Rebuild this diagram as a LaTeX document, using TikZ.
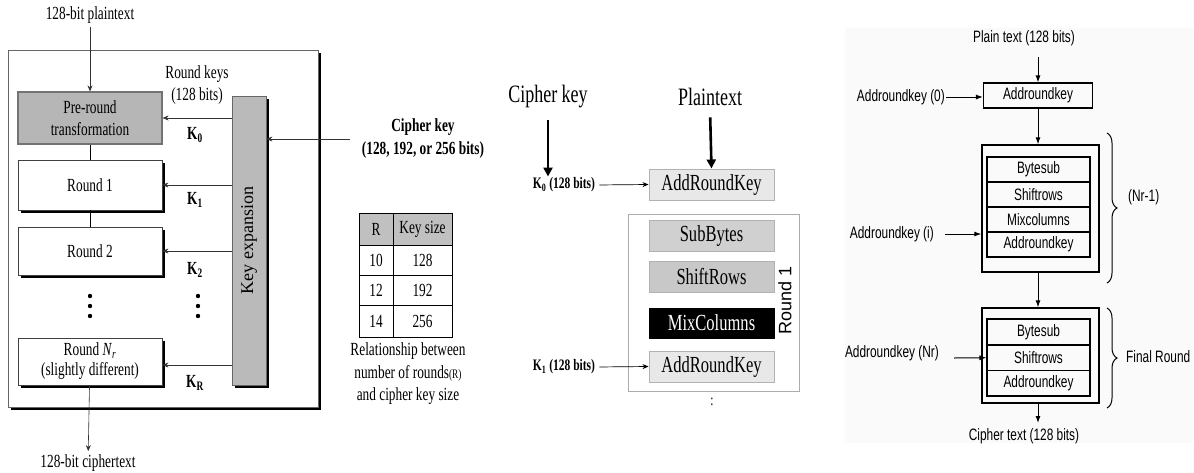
\documentclass[tikz,border=0pt]{standalone}
\usepackage{fontspec}
\setmainfont{Liberation Serif}[FakeStretch=0.72]
\newfontfamily\serwide{Liberation Serif}
\newfontfamily\san{Liberation Sans}[FakeStretch=0.72]
\newfontfamily\sanwide{Liberation Sans}
\usetikzlibrary{shadows,decorations.pathreplacing,arrows.meta}
\definecolor{lgrey}{RGB}{182,182,182}
\definecolor{kgrey}{RGB}{186,186,186}
\definecolor{hgrey}{RGB}{192,192,192}
\definecolor{mlight}{RGB}{232,232,232}
\definecolor{msub}{RGB}{208,208,208}
\definecolor{mshift}{RGB}{200,200,200}
\definecolor{bgpanel}{RGB}{250,250,250}
\begin{document}
\begin{tikzpicture}[x=1pt,y=-1pt,
  lf/.style={font=\fontsize{18.5}{22}\selectfont},
  shad/.style={drop shadow={shadow xshift=3pt,shadow yshift=-3pt,fill=black,opacity=1}},
  lround/.style={draw=black!75,line width=0.8pt,fill=white,inner sep=0pt,align=center,minimum width=144pt,lf,shad},
  larr/.style={-{Stealth[length=6pt,width=5pt]},line width=0.6pt,draw=black!80},
  tc/.style={draw,line width=0.9pt,inner sep=0pt,minimum height=30pt,font=\fontsize{18.5}{18.5}\selectfont},
  mbox/.style={draw=gray!60,line width=1pt,inner sep=0pt,minimum width=125pt,minimum height=31pt,font=\fontsize{23}{23}\selectfont},
  marr/.style={-{Stealth[length=6pt,width=5pt]},line width=0.7pt},
  thickarr/.style={-{Triangle[length=9pt,width=9pt]},line width=2.6pt},
  rbox/.style={draw,line width=1.1pt,inner sep=0pt,minimum width=103pt,minimum height=25pt,font=\san\fontsize{16.5}{16.5}\selectfont},
  router/.style={draw,line width=1.3pt,inner sep=0pt,minimum width=117pt},
  rlab/.style={font=\san\fontsize{16.5}{16.5}\selectfont,inner sep=1pt},
  rarr/.style={-{Latex[length=7pt,width=5pt]},line width=1pt},
  rbrace/.style={decorate,decoration={brace,amplitude=10pt},line width=1pt}
]
\useasboundingbox (0,0) rectangle (1194,472);
\fill[white] (0,0) rectangle (1194,472);

% ================= LEFT =================
\node[draw=black!60,line width=0.9pt,fill=white,minimum width=310pt,minimum height=357pt,inner sep=0pt,shad] (frame) at (163,228.5) {};
\node[lf] (pt) at (90,15) {128-bit plaintext};
\node[draw=black!55,line width=1.2pt,fill=lgrey,inner sep=0pt,align=center,minimum width=144pt,minimum height=52pt,lf] (pre) at (90,118) {Pre-round\\transformation};
\node[lround,minimum height=50pt] (r1) at (90,185) {Round 1};
\node[lround,minimum height=48pt] (r2) at (90,251) {Round 2};
\node[lround,minimum height=47pt,font=\fontsize{18.5}{20}\selectfont] (rnr) at (90,361.5) {Round \textit{N}\textsubscript{\textit{r}}\\(slightly different)};
\node[draw=black!60,line width=0.8pt,fill=kgrey,inner sep=0pt,minimum width=34pt,minimum height=289pt,shad] (ke) at (249,240.5) {};
\node[rotate=90,font=\serwide\fontsize{18}{18}\selectfont] (ketxt) at (ke.center) {Key expansion};
\node[lf] (ct) at (88,463) {128-bit ciphertext};

\draw[larr] (pt) -- (pre);
\draw[line width=0.8pt] (pre) -- (r1);
\draw[line width=0.8pt] (r1) -- (r2);
\draw[larr] (rnr) -- (ct);

\draw[larr] (ke.west |- pre.east) -- (pre.east);
\draw[larr] (ke.west |- r1.east) -- (r1.east);
\draw[larr] (ke.west |- r2.east) -- (r2.east);
\draw[larr] (ke.west |- 0,365) -- (rnr.east |- 0,365);

\node[lf,align=center] (rk) at (197,85) {Round keys\\(128 bits)};
\node[lf] (k0) at (195,135) {\textbf{K}\textsubscript{\textbf{0}}};
\node[lf] (k1) at (195,200) {\textbf{K}\textsubscript{\textbf{1}}};
\node[lf] (k2) at (195,270) {\textbf{K}\textsubscript{\textbf{2}}};
\node[lf] (kr) at (195,383) {\textbf{K}\textsubscript{\textbf{R}}};

\foreach \yy in {296,306,316} {
  \fill (90,\yy) circle (2.2pt);
  \fill (198,\yy) circle (2.2pt);
}

\node[align=center,inner sep=0pt,font=\bfseries\fontsize{18.5}{23}\selectfont] (ck) at (423,139) {Cipher key\\(128, 192, or 256 bits)};
\draw[larr,shorten <=12pt] (ck.west) -- (ke.east |- ck.west);

% table
\node[tc,fill=hgrey,minimum width=34pt,minimum height=32pt] (t00) at (376,229) {R};
\node[tc,fill=hgrey,minimum width=59pt,minimum height=32pt] (t01) at (422.5,229) {Key size};
\node[tc,minimum width=34pt] (t10) at (376,260) {10};
\node[tc,minimum width=59pt] (t11) at (422.5,260) {128};
\node[tc,minimum width=34pt] (t20) at (376,290) {12};
\node[tc,minimum width=59pt] (t21) at (422.5,290) {192};
\node[tc,minimum width=34pt,minimum height=32pt] (t30) at (376,321) {14};
\node[tc,minimum width=59pt,minimum height=32pt] (t31) at (422.5,321) {256};
\node[align=center,inner sep=0pt,font=\fontsize{18.5}{22.5}\selectfont] (cap) at (408,374) {Relationship between\\number of rounds{\fontsize{13}{13}\selectfont(R)}\\and cipher key size};

% ================= MIDDLE =================
\node[font=\fontsize{25}{25}\selectfont] (mck) at (548,97) {Cipher key};
\node[font=\fontsize{25}{25}\selectfont] (mpt) at (710,97) {Plaintext};
\node[mbox,fill=mlight] (ark1) at (711.5,184.5) {AddRoundKey};
\node[font=\bfseries\fontsize{16}{16}\selectfont,inner sep=1pt] (mk0) at (564,185) {K\textsubscript{0} (128 bits)};
\draw[thickarr,shorten <=8pt] (mck.south) -- (mck.south |- mk0.north);
\draw[thickarr,shorten <=8pt] (mpt.south) -- (ark1.north);
\draw[marr,shorten <=3pt] (mk0.east) -- (ark1.west);

\node[draw=gray!65,line width=1pt,minimum width=171pt,minimum height=177pt,inner sep=0pt] (rf) at (713.5,302.5) {};
\node[mbox,fill=msub] (sb) at (711.5,235.5) {SubBytes};
\node[mbox,fill=mshift] (sr) at (711.5,276.5) {ShiftRows};
\node[mbox,fill=black,draw=black,text=white,minimum height=30pt] (mc) at (711.5,323) {MixColumns};
\node[mbox,fill=mlight] (ark2) at (711.5,366.5) {AddRoundKey};
\node[rotate=90,font=\sanwide\fontsize{18}{18}\selectfont] (r1lab) at (785,300) {Round 1};
\node[font=\bfseries\fontsize{16}{16}\selectfont,inner sep=1pt] (mk1) at (564,367) {K\textsubscript{1} (128 bits)};
\draw[marr,shorten <=3pt] (mk1.east) -- (ark2.west);
\node[font=\fontsize{16}{16}\selectfont] (mdots) at (712,402) {:};

% ================= RIGHT =================
\fill[bgpanel] (845,28) rectangle (1193,443);
\node[rlab] (rpt) at (1024,38) {Plain text (128 bits)};
\node[rbox,minimum width=109pt] (ark0) at (1038,95.5) {Addroundkey};
\node[rlab,anchor=east] (ak0) at (946,97) {Addroundkey (0)};
\draw[rarr] (ark0.north |- 0,57) -- (ark0.north);
\draw[rarr] (ak0.east) -- (ark0.west |- ak0.east);

\node[router,minimum height=127pt] (o1) at (1040.5,208.5) {};
\node[rbox] (b1) at (1038.5,169.5) {Bytesub};
\node[rbox] (s1) at (1038.5,194.5) {Shiftrows};
\node[rbox] (m1) at (1038.5,219.5) {Mixcolumns};
\node[rbox] (a1) at (1038.5,244.5) {Addroundkey};
\draw[rarr] (ark0.south) -- (ark0.south |- o1.north);
\node[rlab,anchor=east] (aki) at (935,234) {Addroundkey (i)};
\draw[rarr,shorten <=10pt] (aki.east) -- (o1.west |- aki.east);
\draw[rbrace] (1107,133) -- (1107,283);
\node[rlab,anchor=west] (nr1) at (1127,197) {(Nr-1)};

\node[router,minimum height=95pt] (o2) at (1040.5,355.5) {};
\node[rbox,minimum height=26pt] (b2) at (1038.5,332) {Bytesub};
\node[rbox,minimum height=25.5pt] (s2) at (1038.5,357.75) {Shiftrows};
\node[rbox,minimum height=25.5pt] (a2) at (1038.5,383.25) {Addroundkey};
\draw[rarr] (o1.south -| ark0.south) -- (o2.north -| ark0.south);
\node[rlab,anchor=east] (akn) at (940,353) {Addroundkey (Nr)};
\draw[rarr] (954,358) -- (s2.west);
\draw[rbrace] (1107,308) -- (1107,408);
\node[rlab,anchor=west] (fr) at (1125,357) {Final Round};
\node[rlab] (rct) at (1024,436) {Cipher text (128 bits)};
\draw[rarr] (o2.south -| ark0.south) -- (ark0.south |- 0,423);
\end{tikzpicture}
\end{document}
